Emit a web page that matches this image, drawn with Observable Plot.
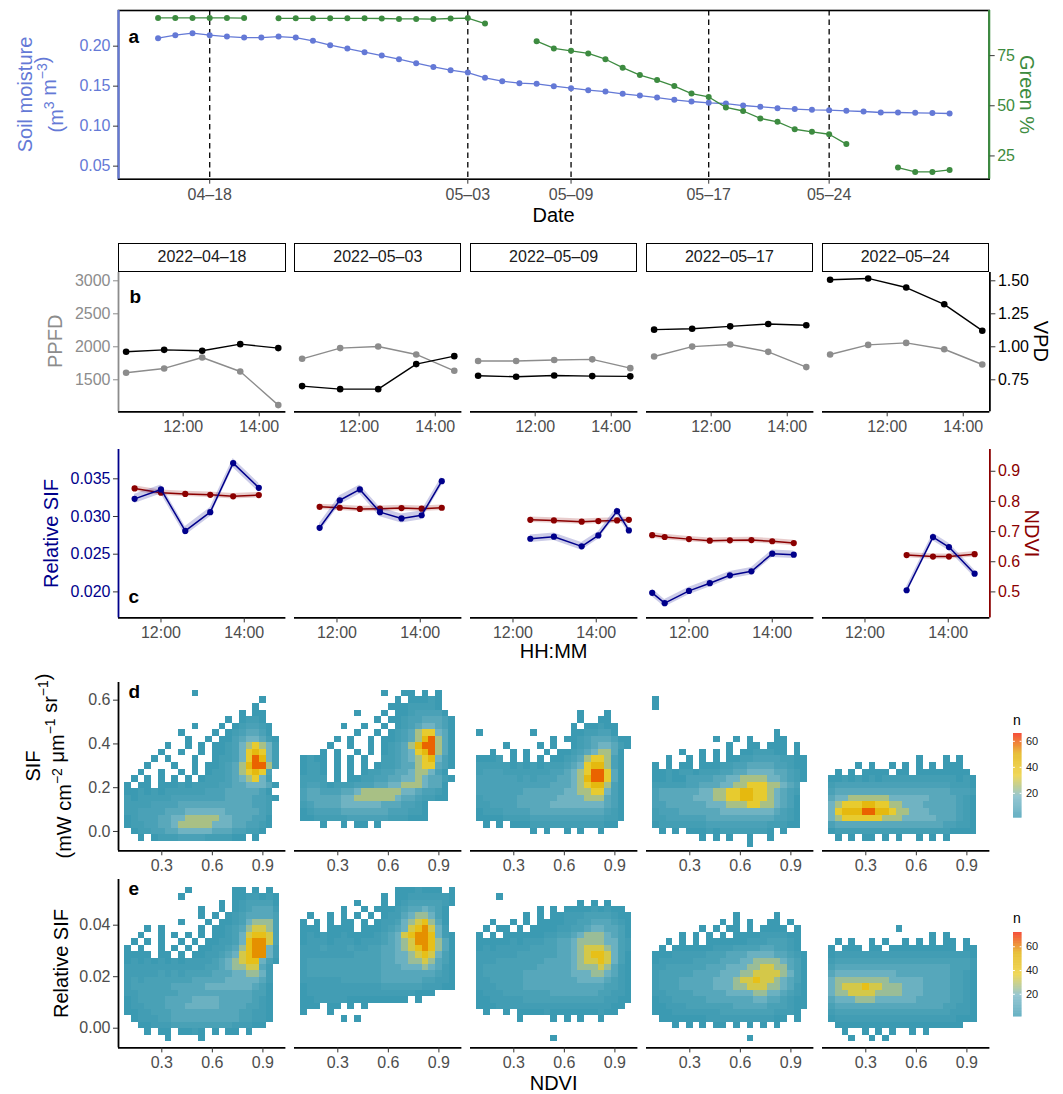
<!DOCTYPE html>
<html>
<head>
<meta charset="utf-8">
<script src="https://cdn.jsdelivr.net/npm/d3@7"></script>
<script src="https://cdn.jsdelivr.net/npm/@observablehq/plot@0.6"></script>
<style>
html,body{margin:0;padding:0;background:#fff;}
#root{position:relative;width:1063px;height:1094px;overflow:hidden;background:#fff;font-family:"Liberation Sans",Arial,Helvetica,sans-serif;}
#root > svg{position:absolute;overflow:visible;max-width:none;background:transparent;pointer-events:none;}
.strip{position:absolute;box-sizing:border-box;border:1.6px solid #000;background:#fff;color:#1a1a1a;font-size:16px;display:flex;align-items:center;justify-content:center;}
</style>
</head>
<body>
<div id="root"></div>
<script>
// ---------------- DATA ----------------
// Panel a: daily soil moisture and green fraction
const soilDates = ["2022-04-15","2022-04-16","2022-04-17","2022-04-18","2022-04-19","2022-04-20","2022-04-21","2022-04-22","2022-04-23","2022-04-24","2022-04-25","2022-04-26","2022-04-27","2022-04-28","2022-04-29","2022-04-30","2022-05-01","2022-05-02","2022-05-03","2022-05-04","2022-05-05","2022-05-06","2022-05-07","2022-05-08","2022-05-09","2022-05-10","2022-05-11","2022-05-12","2022-05-13","2022-05-14","2022-05-15","2022-05-16","2022-05-17","2022-05-18","2022-05-19","2022-05-20","2022-05-21","2022-05-22","2022-05-23","2022-05-24","2022-05-25","2022-05-26","2022-05-27","2022-05-28","2022-05-29","2022-05-30","2022-05-31"];
const soilMoisture = [0.210,0.2138,0.2163,0.2138,0.2120,0.2108,0.2108,0.2120,0.2108,0.2067,0.2013,0.1970,0.1925,0.1883,0.1838,0.1788,0.1740,0.1700,0.1670,0.1604,0.1563,0.1538,0.1529,0.1500,0.1475,0.1450,0.1433,0.1404,0.1383,0.1358,0.1329,0.1308,0.1292,0.1283,0.1258,0.1242,0.1225,0.1213,0.1204,0.1200,0.1192,0.1183,0.1171,0.1171,0.1167,0.1163,0.1158];
const greenPct = [93.8,93.8,93.8,93.8,93.8,93.7,null,93.6,93.6,93.6,93.6,93.6,93.6,93.5,93.3,93.3,93.2,93.5,93.7,91.0,null,null,82.2,78.6,77.4,76.1,73.2,69.0,65.3,62.8,59.8,56.1,54.4,49.2,47.4,43.7,42.0,38.3,37.0,35.8,30.9,null,null,19.2,17.0,17.0,18.0];
const markDates = ["2022-04-18","2022-05-03","2022-05-09","2022-05-17","2022-05-24"];
const soilTicks = [0.05, 0.10, 0.15, 0.20];
const greenTicks = [25, 50, 75];

// Panel b: hourly PPFD and VPD per date
const facetDates = ["2022-04-18","2022-05-03","2022-05-09","2022-05-17","2022-05-24"];
const bTimes = ["10:30","11:30","12:30","13:30","14:30"];
const ppfd = [
  [1606,1672,1838,1626,1116],
  [1818,1980,2005,1884,1636],
  [1785,1785,1800,1810,1676],
  [1853,2003,2034,1923,1692],
  [1883,2029,2059,1963,1732]
];
const vpd = [
  [0.962,0.977,0.970,1.020,0.990],
  [0.702,0.679,0.679,0.869,0.929],
  [0.781,0.773,0.783,0.778,0.776],
  [1.130,1.137,1.155,1.173,1.163],
  [1.508,1.518,1.449,1.322,1.122]
];
const ppfdTicks = [1500, 2000, 2500, 3000];
const vpdTicks = [0.75, 1.00, 1.25, 1.50];
const timeTicks = ["12:00", "14:00"];

// Panel c: relative SIF and NDVI (mean +/- band)
const cTimes = [
  ["11:22","12:00","12:35","13:11","13:44","14:21"],
  ["11:35","12:04","12:33","13:02","13:33","14:02","14:31"],
  ["12:25","12:59","13:39","14:03","14:30","14:47"],
  ["11:07","11:25","12:00","12:30","12:59","13:30","14:00","14:31"],
  ["13:00","13:38","14:01","14:38"]
];
const relSif = [
  [0.03234,0.03359,0.02809,0.03058,0.03708,0.03381],
  [0.02850,0.03216,0.03359,0.03058,0.02974,0.03017,0.03469],
  [0.02705,0.02732,0.02604,0.02749,0.03071,0.02816],
  [0.01987,0.01850,0.02013,0.02115,0.02220,0.02273,0.02507,0.02494],
  [0.02022,0.02727,0.02595,0.02242]
];
const ndviMean = [
  [0.843,0.829,0.825,0.822,0.817,0.821],
  [0.782,0.779,0.775,0.776,0.778,0.776,0.779],
  [0.739,0.737,0.733,0.735,0.737,0.739],
  [0.688,0.682,0.675,0.670,0.671,0.672,0.668,0.662],
  [0.622,0.617,0.617,0.625]
];
const relSifSE = [0.0006, 0.0006, 0.0005, 0.0005, 0.0005];
const ndviSE = [0.009, 0.009, 0.009, 0.009, 0.009];
const relTicks = [0.020, 0.025, 0.030, 0.035];
const ndviAxisTicks = [0.5, 0.6, 0.7, 0.8, 0.9];

// Panels d/e: 2-D histograms (counts per NDVI x SIF bin), read as density levels
const ndviCenters = [0.10,0.14,0.18,0.22,0.26,0.30,0.34,0.38,0.42,0.46,0.50,0.54,0.58,0.62,0.66,0.70,0.74,0.78,0.82,0.86,0.90,0.94,0.98];
const ndviBinWidth = 0.04;
const sifCenters = [0.63,0.60,0.57,0.54,0.51,0.48,0.45,0.42,0.39,0.36,0.33,0.30,0.27,0.24,0.21,0.18,0.15,0.12,0.09,0.06,0.03,0.00,-0.03,-0.06];
const sifBinHeight = 0.03;
const relCenters = [0.0535,0.0510,0.0485,0.0460,0.0435,0.0410,0.0385,0.0360,0.0335,0.0310,0.0285,0.0260,0.0235,0.0210,0.0185,0.0160,0.0135,0.0110,0.0085,0.0060,0.0035,0.0010,-0.0015,-0.0040];
const relBinHeight = 0.0025;
const levelCounts = [0, 1, 3, 5, 9, 15, 24, 33, 44, 58];
const sifGrids = [
[ // 2022-04-18
"..........1............",
"....................1..",
"...................1...",
".................1.11..",
"...............1.1221..",
"..........1...1.123321.",
"........1....1.1234431.",
".........1..1.113455421",
"......1..1.1.1123567652",
".....1..1..1.1123578752",
"....1.1...1..1223579852",
"...1...1..1.11234689962",
"..1..1..1.1.1223467873.",
".1.1.1.1.1.12223456752.",
"1.11.111212222334455541",
"1121212222223334444431.",
"21222223333333344443321",
"2222333344444444444332.",
"2233334445555554444432.",
"1233344556666655444331.",
"1223344566666555443321.",
".12233445555544433221..",
"..1.12223333222211.1...",
"......................."],
[ // 2022-05-03
"............1..11.1.1..",
"..............1.11121..",
".............11122221..",
"........1...1.11233331.",
"...........1.1123344431",
"......1..1..1.123455431",
"........1..1.1234677541",
".....1.1..1.11234689641",
"....1..1..1.12346899641",
"...1.1..1.1.12345789641",
"1211.1.1.1..22345678531",
"1221.1.1.1.122344677431",
"1221.1.1.1223344566531.",
"2222.1.1122334455654421",
"2332122233344556665441.",
"3443334456666665543321.",
"3444445566666654432211.",
"2344445555554443321....",
"1233334444444333221....",
"1122222333333222111....",
"...1..1.11.1...........",
".......................",
".......................",
"......................."],
[ // 2022-05-09
".......................",
".......................",
".......................",
"...............1...1...",
"...............1..11...",
"..............1.11211..",
"1.......1.....1122331..",
"...........1.1123444311",
"....1....1.1..123455421",
"..1..1.1..1.1123456641.",
"1112.1.1.1.11234677631.",
"2222212121222345788631.",
"2333222222233456799741.",
"3333332323334456899741.",
"3333333333344456788631.",
"3333333444444556677531.",
"2333334444445555666431.",
"2233334444455555555431.",
"1222333344444444444321.",
"1111222233333333333221.",
".1.1.1112222222222211..",
"........1.1..1.1..1....",
".......................",
"......................."],
[ // 2022-05-17
".......................",
"1......................",
"1......................",
".......................",
".......................",
".......................",
"..................1....",
".........1..1.1...11...",
"...........1..11.111.1.",
"....1..1.1.1.1122211.1.",
"..1..1.1.1.112233332211",
"1.1.11.1112233444433211",
"11212212223344555544321",
"11211333344556666554321",
"2222233444556677766543.",
"3444444556677887765432.",
"3444445556677887765431.",
"3344444455566677665431.",
"2333444444555555554321.",
"2233333344444444443321.",
"1222222233333333322211.",
".1.1.1112122222221.1...",
".......1.1.1..1..1.....",
"..............1........"],
[ // 2022-05-24
".......................",
".......................",
".......................",
".......................",
".......................",
".......................",
".......................",
".......................",
".......................",
".......................",
".............1...1.1...",
"....1.1..1.1.1.1.111...",
".1.1.1111.11.11111111..",
"1121212122222222222121.",
"2333333333333333332221.",
"3444444444444444443332.",
"4556666665555554444321.",
"5677788776655544444321.",
"5788899887665554444321.",
"5677777766655555444321.",
"3444444444444444433221.",
"1222222222222222221111.",
".1.1.11.1.1..1.1.1.....",
"......................."]
];
const relGrids = [
[ // 2022-04-18
".........1......11.1.1.",
"........1.......1122121",
"..............1.1233331",
"...........1..1.1234442",
"...........1.1.12344443",
"........1...1.112356663",
"...1.1.....1.1123467763",
"..1..1.1.1.1.1123578873",
".1.1.1..1.1.11223589973",
"1.1..1.1.1.112234689952",
"1111.11.1.1122345789952",
"12121212122223456788531",
"2222222222223345667742.",
"2222232323333444556652.",
"2323333333444445555542.",
"2333333444445555555431.",
"2233333344444444444331.",
"1233334444555544444321.",
"1223334445555544443321.",
"1122333444444444433221.",
".122233444444444433221.",
"..1122233333333322211..",
"...1.11.1121.1.11.1....",
"......1....1..........."],
[ // 2022-05-03
"..............1112111.1",
"............1.112222221",
"........1...1.123333321",
"......1..1.11123445431.",
".1..1.1.1.1.1224566531.",
"1.1.1.11.1.12235678641.",
"111.1111.1112345789752.",
"12121121111234578998521",
"12221222122234567998641",
"22232223223344567898641",
"22222222333344556787531",
"23333333333344556676431",
"23333333333344455565421",
"23333333333344444444321",
"22222233333344444433221",
"12222222222233333322211",
"12222222222222222111...",
"1122222111111111.1.....",
"111.11.1.1.............",
"1...1..................",
"......1.1..............",
".......................",
".......................",
"......................."],
[ // 2022-05-09
".......................",
"...1...................",
"...............1.1.1...",
".........1.1.111121211.",
".......1.1.112223333211",
"..1..1.1.11112233444321",
".1.11.1.111122334554431",
"1.1.1111112233456665431",
"11111212223344566665532",
"12122222333344567776532",
"22222233333344567887531",
"22233333334444567787531",
"23333333344444566676421",
"23333334444444555665421",
"22333334444444455554321",
"22233334444444444443321",
"12223333333444444433221",
"11222223333333333332211",
"1112222222222222222211.",
".1..1.111121111111211..",
"......1....1.1.1..1....",
".......................",
".......................",
"...........1..........."],
[ // 2022-05-17
".......................",
".......................",
".......................",
".......................",
"............1.....1....",
"..........1.1.1..11.1..",
".......1.1.11.1.1111.1.",
"....1.1.1.1.1111222211.",
"..1.1.1.11111122233321.",
".1.1111112223333443321.",
"11122222333444555544321",
"12222233334445566665431",
"22333333444555667766431",
"23333344445556677776531",
"23334444455567787765431",
"23334444455566777665421",
"22333344444555566554321",
"12233333444444455443211",
"11222333333344444333211",
"1112222222333333332221.",
".1111111222222222211.1.",
"...1.1.1.11.1.1.1.1....",
".......................",
"..............1........"],
[ // 2022-05-24
".......................",
".......................",
".......................",
".......................",
".......................",
".......................",
"..........1............",
"...............1.1.....",
".1.1..1.1..1.1.1.11.1..",
"1.111.11.1111111111.11.",
"1222222222222222222221.",
"2333333333333333333332.",
"3444444444444444443332.",
"4555555555444444443321.",
"5666666665555544443321.",
"5677787766655544443321.",
"5667777666655544443321.",
"4555666555555444443321.",
"3444444444444444433221.",
"2333333333333333332221.",
"1222222222222222222111.",
".1111111111111111111...",
"..1..1.1.1..1.1........",
"...1..1.1.............."]
];
const ndviTicks = [0.3, 0.6, 0.9];
const sifTicks = [0.0, 0.2, 0.4, 0.6];
const relHeatTicks = [0.00, 0.02, 0.04];
const legendTicks = [20, 40, 60];
const zissou = ["#3B9AB2", "#78B7C5", "#EBCC2A", "#E1AF00", "#F21A00"];

// ---------------- LAYOUT / STYLE ----------------
const FONT = '"Liberation Sans", Arial, Helvetica, sans-serif';
const BLUE = "#6479D6", GREEN = "#3D8B40", GRAY = "#8C8C8C", NAVY = "#00008B", DRED = "#8B0000", TXT = "#4D4D4D", TICK = "#333333";
const FX0 = 118.3, FW = 167.4, FSTEP = 175.8, PR = 989;
const M = {top: 40, right: 90, bottom: 50, left: 110};
const root = document.getElementById("root");
const hours = s => +s.slice(0, 2) + (+s.slice(3)) / 60;
const utc = s => new Date(s + "T00:00:00Z");
const dash = s => s.replace(/-/g, "\u2013");
const hhmm = h => String(h).padStart(2, "0") + ":00";

function mk(opts, f) {
  const svg = Plot.plot({
    width: f.w + M.left + M.right,
    height: f.h + M.top + M.bottom,
    marginLeft: M.left, marginRight: M.right, marginTop: M.top, marginBottom: M.bottom,
    style: {fontFamily: FONT, fontSize: "16px", background: "transparent", overflow: "visible"},
    ...opts,
    marks: opts.marks.filter(Boolean)
  });
  svg.style.position = "absolute";
  svg.style.left = (f.x - M.left) + "px";
  svg.style.top = (f.y - M.top) + "px";
  root.appendChild(svg);
  return svg;
}
const letter = (t, dy, dx = 10) => Plot.text([t], {text: d => d, frameAnchor: "top-left", textAnchor: "start", lineAnchor: "top", dx, dy, fontSize: 19, fontWeight: "bold", fill: "#000"});
const xAxisOpts = {tickSize: 5, tickPadding: 4, fill: TXT, stroke: TICK, label: null};

// ---------------- PANEL a ----------------
const aF = {x: FX0, y: 10, w: PR - FX0, h: 168.7};
const aXdom = [new Date(Date.UTC(2022, 3, 12, 16, 48)), new Date(Date.UTC(2022, 5, 2, 7, 12))];
const soil = soilDates.map((d, i) => ({date: utc(d), sm: soilMoisture[i], g: greenPct[i]}));
mk({
  x: {type: "utc", domain: aXdom},
  y: {domain: [0.0337, 0.2446]},
  marks: [
    Plot.ruleX(markDates.map(utc), {stroke: "#000", strokeWidth: 1.3, strokeDasharray: "5.5,4"}),
    Plot.line(soil, {x: "date", y: "sm", stroke: BLUE, strokeWidth: 1.3}),
    Plot.dot(soil, {x: "date", y: "sm", r: 3, fill: BLUE, stroke: "none"}),
    Plot.frame({stroke: "#000", strokeWidth: 1.6}),
    Plot.ruleX([aXdom[0]], {stroke: BLUE, strokeWidth: 2.2}),
    Plot.axisX({ticks: markDates.map(utc), tickFormat: d => dash(d3.utcFormat("%m-%d")(d)), ...xAxisOpts}),
    Plot.axisY({ticks: soilTicks, tickFormat: d3.format(".2f"), tickSize: 5, tickPadding: 3, fill: BLUE, stroke: TICK, label: null}),
    letter("a", 19.2)
  ]
}, aF);
mk({
  x: {type: "utc", domain: aXdom, axis: null},
  y: {domain: [13.4, 97.5]},
  marks: [
    Plot.line(soil, {x: "date", y: "g", stroke: GREEN, strokeWidth: 1.3}),
    Plot.dot(soil.filter(d => d.g != null), {x: "date", y: "g", r: 3, fill: GREEN, stroke: "none"}),
    Plot.ruleX([aXdom[1]], {stroke: GREEN, strokeWidth: 2.2}),
    Plot.axisY({anchor: "right", ticks: greenTicks, tickSize: 5, tickPadding: 3, fill: GREEN, stroke: TICK, label: null})
  ]
}, aF);

// ---------------- PANEL b ----------------
const bXdom = [10.3, 14.7];
const bYdom = [1015, 3126];
const vpdDom = [0.5075, 1.563];
facetDates.forEach((fd, i) => {
  const f = {x: FX0 + i * FSTEP, y: 271.7, w: FW, h: 139.3};
  const rows = bTimes.map((t, k) => ({t: hours(t), p: ppfd[i][k], v: vpd[i][k]}));
  mk({
    x: {domain: bXdom},
    y: i === 0 ? {domain: bYdom} : {domain: bYdom, axis: null},
    marks: [
      Plot.line(rows, {x: "t", y: "p", stroke: GRAY, strokeWidth: 1.4}),
      Plot.dot(rows, {x: "t", y: "p", r: 3.3, fill: GRAY, stroke: "none"}),
      Plot.ruleY([bYdom[0]], {stroke: "#000", strokeWidth: 1.8}),
      Plot.axisX({ticks: timeTicks.map(hours), tickFormat: hhmm, ...xAxisOpts}),
      i === 0 && Plot.ruleX([bXdom[0]], {stroke: GRAY, strokeWidth: 1.8}),
      i === 0 && Plot.axisY({ticks: ppfdTicks, tickFormat: d3.format("d"), tickSize: 5, tickPadding: 3, fill: GRAY, stroke: GRAY, label: null}),
      i === 0 && letter("b", 17.5, 11)
    ]
  }, f);
  mk({
    x: {domain: bXdom, axis: null},
    y: i === 4 ? {domain: vpdDom} : {domain: vpdDom, axis: null},
    marks: [
      Plot.line(rows, {x: "t", y: "v", stroke: "#000", strokeWidth: 1.4}),
      Plot.dot(rows, {x: "t", y: "v", r: 3.3, fill: "#000", stroke: "none"}),
      i === 4 && Plot.ruleX([bXdom[1]], {stroke: "#000", strokeWidth: 1.8}),
      i === 4 && Plot.axisY({anchor: "right", ticks: vpdTicks, tickFormat: d3.format(".2f"), tickSize: 5, tickPadding: 3, fill: "#000", stroke: TICK, label: null})
    ]
  }, f);
  const s = document.createElement("div");
  s.className = "strip";
  s.style.left = f.x + "px"; s.style.top = "242.7px";
  s.style.width = FW + "px"; s.style.height = "29.5px";
  s.textContent = dash(fd);
  root.appendChild(s);
});

// ---------------- PANEL c ----------------
const cXdom = [10.98, 15.0];
const cYdom = [0.01655, 0.03889];
const cNdviDom = [0.4138, 0.9722];
facetDates.forEach((fd, i) => {
  const f = {x: FX0 + i * FSTEP, y: 449.3, w: FW, h: 168.4};
  const rows = cTimes[i].map((t, k) => ({t: hours(t), s: relSif[i][k], n: ndviMean[i][k]}));
  mk({
    x: {domain: cXdom, axis: null},
    y: i === 4 ? {domain: cNdviDom} : {domain: cNdviDom, axis: null},
    marks: [
      Plot.areaY(rows, {x: "t", y1: d => d.n - ndviSE[i], y2: d => d.n + ndviSE[i], fill: DRED, fillOpacity: 0.2}),
      Plot.line(rows, {x: "t", y: "n", stroke: DRED, strokeWidth: 1.5}),
      Plot.dot(rows, {x: "t", y: "n", r: 3.1, fill: DRED, stroke: "none"}),
      i === 4 && Plot.ruleX([cXdom[1]], {stroke: DRED, strokeWidth: 1.8}),
      i === 4 && Plot.axisY({anchor: "right", ticks: ndviAxisTicks, tickFormat: d3.format(".1f"), tickSize: 5, tickPadding: 3, fill: DRED, stroke: TICK, label: null})
    ]
  }, f);
  mk({
    x: {domain: cXdom},
    y: i === 0 ? {domain: cYdom} : {domain: cYdom, axis: null},
    marks: [
      Plot.areaY(rows, {x: "t", y1: d => d.s - relSifSE[i], y2: d => d.s + relSifSE[i], fill: NAVY, fillOpacity: 0.2}),
      Plot.line(rows, {x: "t", y: "s", stroke: NAVY, strokeWidth: 1.5}),
      Plot.dot(rows, {x: "t", y: "s", r: 3.1, fill: NAVY, stroke: "none"}),
      Plot.ruleY([cYdom[0]], {stroke: "#000", strokeWidth: 1.8}),
      Plot.axisX({ticks: timeTicks.map(hours), tickFormat: hhmm, ...xAxisOpts}),
      i === 0 && Plot.ruleX([cXdom[0]], {stroke: NAVY, strokeWidth: 1.8}),
      i === 0 && Plot.axisY({ticks: relTicks, tickFormat: d3.format(".3f"), tickSize: 5, tickPadding: 3, fill: NAVY, stroke: TICK, label: null}),
      i === 0 && letter("c", 139.9)
    ]
  }, f);
});

// ---------------- PANELS d / e ----------------
const ndviDom = [0.043, 1.0365];
function colorOpts(dom) {
  return {type: "linear", domain: zissou.map((_, k) => dom[0] + k * (dom[1] - dom[0]) / (zissou.length - 1)), range: zissou, interpolate: "rgb"};
}
function heat(grids, centers, binH, top, h, ydom, yticks, yfmt, cdom, lt) {
  grids.forEach((grid, i) => {
    const cells = [];
    grid.forEach((row, j) => {
      for (let k = 0; k < ndviCenters.length; k++) {
        const ch = row[k];
        if (ch && ch >= "1" && ch <= "9") cells.push({
          x1: ndviCenters[k] - ndviBinWidth / 2, x2: ndviCenters[k] + ndviBinWidth / 2,
          y1: centers[j] - binH / 2, y2: centers[j] + binH / 2, n: levelCounts[+ch]
        });
      }
    });
    mk({
      x: {domain: ndviDom},
      y: i === 0 ? {domain: ydom} : {domain: ydom, axis: null},
      color: colorOpts(cdom),
      marks: [
        Plot.rect(cells, {x1: "x1", x2: "x2", y1: "y1", y2: "y2", fill: "n", shapeRendering: "crispEdges"}),
        Plot.ruleY([ydom[0]], {stroke: "#000", strokeWidth: 1.8}),
        Plot.axisX({ticks: ndviTicks, tickFormat: d3.format(".1f"), ...xAxisOpts}),
        i === 0 && Plot.ruleX([ndviDom[0]], {stroke: "#000", strokeWidth: 1.8}),
        i === 0 && Plot.axisY({ticks: yticks, tickFormat: d3.format(yfmt), tickSize: 5, tickPadding: 3, fill: TXT, stroke: TICK, label: null}),
        i === 0 && letter(lt, 2.1)
      ]
    }, {x: FX0 + i * FSTEP, y: top, w: FW, h});
  });
}
heat(sifGrids, sifCenters, sifBinHeight, 681.7, 168.3, [-0.0883, 0.6807], sifTicks, ".1f", [1, 66], "d");
heat(relGrids, relCenters, relBinHeight, 879.3, 168.4, [-0.00764, 0.05774], relHeatTicks, ".2f", [1, 72], "e");

function legend(top, h, dom) {
  const stops = d3.range(dom[0], dom[1], 0.25);
  mk({
    x: {domain: [0, 1], axis: null},
    y: {domain: dom},
    color: colorOpts(dom),
    marks: [
      Plot.rect(stops, {x1: 0, x2: 1, y1: d => d, y2: d => Math.min(dom[1], d + 0.3), fill: d => d}),
      Plot.ruleY(legendTicks, {x1: 0, x2: 0.22, stroke: "white", strokeWidth: 1}),
      Plot.ruleY(legendTicks, {x1: 0.78, x2: 1, stroke: "white", strokeWidth: 1}),
      Plot.axisY({anchor: "right", ticks: legendTicks, tickSize: 0, tickPadding: 4, fontSize: 11, fill: "#222", label: null})
    ]
  }, {x: 1012.5, y: top, w: 8.5, h});
}
legend(732.7, 84.6, [1, 66]);
legend(932.3, 84.4, [1, 72]);

// ---------------- TITLES ----------------
const ov = d3.select(root).append("svg").attr("width", 1063).attr("height", 1094)
  .style("left", "0px").style("top", "0px").attr("font-family", FONT);
function T(x, y, rot, fill, size, parts, baseline = "central", anchor = "middle") {
  const t = ov.append("text").attr("transform", `translate(${x},${y}) rotate(${rot})`)
    .attr("text-anchor", anchor).attr("dominant-baseline", baseline).attr("fill", fill).attr("font-size", size);
  parts.forEach(p => {
    if (typeof p === "string") t.append("tspan").text(p);
    else t.append("tspan").attr("font-size", p.size).attr("dy", p.dy).text(p.t);
  });
}
const sup = s => [{t: s, dy: -7, size: 14}, {t: "", dy: 7, size: 20}];
T(24.8, 94.5, -90, BLUE, 20, ["Soil moisture"]);
T(55.6, 94.5, -90, BLUE, 20, ["(m", ...sup("3"), " m", ...sup("\u22123"), ")"]);
T(553.6, 221.5, 0, "#000", 20, ["Date"], "alphabetic");
T(1027, 94.5, 90, GREEN, 20, ["Green %"]);
T(54.8, 341.3, -90, GRAY, 20, ["PPFD"]);
T(1041, 341.3, 90, "#000", 20, ["VPD"]);
T(51.4, 533.5, -90, NAVY, 20, ["Relative SIF"]);
T(1032, 533.5, 90, DRED, 20, ["NDVI"]);
T(553.6, 658, 0, "#000", 20, ["HH:MM"], "alphabetic");
T(33.1, 766, -90, "#000", 20, ["SIF"]);
T(63.9, 766, -90, "#000", 20, ["(mW cm", ...sup("\u22122"), " \u03bcm", ...sup("\u22121"), " sr", ...sup("\u22121"), ")"]);
T(61.4, 963.5, -90, "#000", 20, ["Relative SIF"]);
T(553.6, 1090, 0, "#000", 20, ["NDVI"], "alphabetic");
T(1013, 725, 0, "#000", 14, ["n"], "alphabetic", "start");
T(1013, 923.3, 0, "#000", 14, ["n"], "alphabetic", "start");
</script>
</body>
</html>
